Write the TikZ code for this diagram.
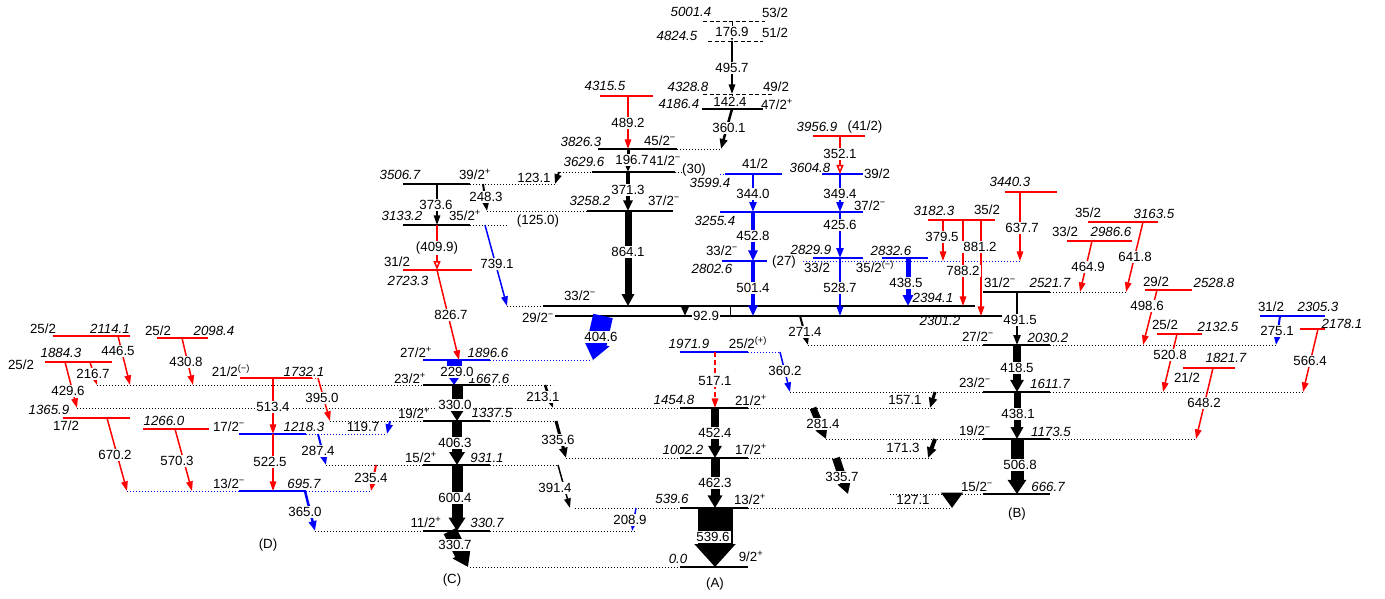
\documentclass[tikz,border=0pt]{standalone}
\usepackage{fontspec}
\setmainfont{Liberation Sans}
\usetikzlibrary{arrows.meta}

\tikzset{
  lev/.style={line width=1.2pt},
  ext/.style={line width=0.8pt,dash pattern=on 1pt off 2pt},
  tent/.style={line width=0.9pt,dash pattern=on 4pt off 2.5pt},
  g/.style={line width=#1,-{Triangle[length=9pt 0.4,width=5pt 1]}},
  og/.style={line width=#1,-{Triangle[open,length=9pt,width=7pt]}},
  en/.style={font=\fontsize{13.3}{15}\itshape,inner sep=0pt},
  sp/.style={inner sep=0pt},
  gap/.style={fill=white,inner sep=1.2pt},
}

\begin{document}
\begin{tikzpicture}[x=1pt,y=-1pt,font=\fontsize{13.3}{15}\selectfont]
\useasboundingbox (0,0) rectangle (1385,599);

% level heights
\foreach \n/\y in {5001/21,4824/41,4329/94,4316/96,4186/109,3957/136,3826/149,
  3630/172,3605/174,3599/174,3507/184,3440/192,3258/211,3255/212,3182/220,
  3164/222,3133/225,2987/241,2833/258,2830/258,2803/261,2723/270,2529/290,
  2522/292,2394/306,2301/316,2305/316,2178/329,2133/334,2114/336,2098/338,
  2030/345,1972/352,1897/360,1884/362,1822/368,1732/378,1668/385,1612/392,
  1455/408,1366/418,1338/421,1266/429,1218/434,1174/439,1002/458,931/465,
  696/491,667/494,540/508,331/531,0/567}
  \coordinate (l\n) at (0,\y);

% levels, black
\draw[tent] (703,0 |- l5001) -- (765,0 |- l5001);
\draw[tent] (708,0 |- l4824) -- (763,0 |- l4824);
\draw[tent] (703,0 |- l4329) -- (773,0 |- l4329);
\draw[lev] (702,0 |- l4186) -- (763,0 |- l4186);
\draw[lev] (598,0 |- l3826) -- (677,0 |- l3826);
\draw[ext] (677,0 |- l3826) -- (722,0 |- l3826);
\draw[lev] (592,0 |- l3630) -- (675,0 |- l3630);
\draw[ext] (560,0 |- l3630) -- (592,0 |- l3630) (675,0 |- l3630) -- (683,0 |- l3630);
\draw[lev] (403,0 |- l3507) -- (470,0 |- l3507);
\draw[ext] (470,0 |- l3507) -- (557,0 |- l3507);
\draw[lev] (587,0 |- l3258) -- (673,0 |- l3258);
\draw[ext] (487,0 |- l3258) -- (587,0 |- l3258);
\draw[lev] (403,0 |- l3133) -- (470,0 |- l3133);
\draw[ext] (470,0 |- l3133) -- (507,0 |- l3133);
\draw[lev] (543,0 |- l2394) -- (975,0 |- l2394);
\draw[ext] (507,0 |- l2394) -- (543,0 |- l2394);
\draw[lev] (555,0 |- l2301) -- (1003,0 |- l2301);
\draw[lev] (423,0 |- l1668) -- (490,0 |- l1668);
\draw[ext] (97,0 |- l1668) -- (423,0 |- l1668) (490,0 |- l1668) -- (553,0 |- l1668);
\draw[lev] (423,0 |- l1338) -- (490,0 |- l1338);
\draw[ext] (330,0 |- l1338) -- (423,0 |- l1338) (490,0 |- l1338) -- (556,0 |- l1338);
\draw[lev] (423,0 |- l931) -- (490,0 |- l931);
\draw[ext] (326,0 |- l931) -- (423,0 |- l931) (490,0 |- l931) -- (558,0 |- l931);
\draw[lev] (423,0 |- l331) -- (490,0 |- l331);
\draw[ext] (315,0 |- l331) -- (423,0 |- l331) (490,0 |- l331) -- (635,0 |- l331);
\draw[lev] (680,0 |- l0) -- (748,0 |- l0);
\draw[ext] (470,0 |- l0) -- (680,0 |- l0);
\draw[lev] (680,0 |- l540) -- (748,0 |- l540);
\draw[ext] (575,0 |- l540) -- (680,0 |- l540) (748,0 |- l540) -- (952,0 |- l540);
\draw[lev] (680,0 |- l1002) -- (748,0 |- l1002);
\draw[ext] (566,0 |- l1002) -- (680,0 |- l1002) (748,0 |- l1002) -- (932,0 |- l1002);
\draw[lev] (680,0 |- l1455) -- (748,0 |- l1455);
\draw[ext] (77,0 |- l1455) -- (680,0 |- l1455) (748,0 |- l1455) -- (935,0 |- l1455);
\draw[lev] (983,0 |- l2522) -- (1050,0 |- l2522);
\draw[ext] (1050,0 |- l2522) -- (1127,0 |- l2522);
\draw[lev] (983,0 |- l2030) -- (1050,0 |- l2030);
\draw[ext] (808,0 |- l2030) -- (983,0 |- l2030) (1050,0 |- l2030) -- (1276,0 |- l2030);
\draw[lev] (983,0 |- l1612) -- (1050,0 |- l1612);
\draw[ext] (790,0 |- l1612) -- (983,0 |- l1612) (1050,0 |- l1612) -- (1305,0 |- l1612);
\draw[lev] (983,0 |- l1174) -- (1050,0 |- l1174);
\draw[ext] (826,0 |- l1174) -- (983,0 |- l1174) (1050,0 |- l1174) -- (1197,0 |- l1174);
\draw[lev] (983,0 |- l667) -- (1050,0 |- l667);
\draw[ext] (890,0 |- l667) -- (983,0 |- l667);

% levels, blue
\begin{scope}[blue]
\draw[lev] (423,0 |- l1897) -- (490,0 |- l1897);
\draw[ext] (490,0 |- l1897) -- (592,0 |- l1897);
\draw[lev] (239,0 |- l1218) -- (306,0 |- l1218);
\draw[ext] (306,0 |- l1218) -- (387,0 |- l1218);
\draw[lev] (239,0 |- l696) -- (306,0 |- l696);
\draw[ext] (127,0 |- l696) -- (239,0 |- l696) (306,0 |- l696) -- (371,0 |- l696);
\draw[lev] (680,0 |- l1972) -- (748,0 |- l1972);
\draw[ext] (748,0 |- l1972) -- (780,0 |- l1972);
\draw[lev] (725,0 |- l3599) -- (782,0 |- l3599);
\draw[ext] (720,0 |- l3599) -- (725,0 |- l3599);
\draw[lev] (720,0 |- l3255) -- (863,0 |- l3255);
\draw[lev] (822,0 |- l3605) -- (863,0 |- l3605);
\draw[lev] (722,0 |- l2803) -- (767,0 |- l2803);
\draw[ext] (803,0 |- l2803) -- (1020,0 |- l2803);
\draw[lev] (813,0 |- l2830) -- (863,0 |- l2830);
\draw[lev] (882,0 |- l2833) -- (928,0 |- l2833);
\draw[lev] (1260,0 |- l2305) -- (1325,0 |- l2305);
\end{scope}

% levels, red
\begin{scope}[red]
\draw[lev] (600,0 |- l4316) -- (653,0 |- l4316);
\draw[lev] (403,0 |- l2723) -- (472,0 |- l2723);
\draw[lev] (813,0 |- l3957) -- (865,0 |- l3957);
\draw[lev] (928,0 |- l3182) -- (995,0 |- l3182);
\draw[lev] (1005,0 |- l3440) -- (1057,0 |- l3440);
\draw[lev] (1088,0 |- l3164) -- (1158,0 |- l3164);
\draw[lev] (1067,0 |- l2987) -- (1132,0 |- l2987);
\draw[lev] (1145,0 |- l2529) -- (1192,0 |- l2529);
\draw[lev] (1157,0 |- l2133) -- (1202,0 |- l2133);
\draw[lev] (1183,0 |- l1822) -- (1235,0 |- l1822);
\draw[lev] (1300,0 |- l2178) -- (1325,0 |- l2178);
\draw[lev] (53,0 |- l2114) -- (130,0 |- l2114);
\draw[lev] (157,0 |- l2098) -- (208,0 |- l2098);
\draw[lev] (45,0 |- l1884) -- (112,0 |- l1884);
\draw[lev] (240,0 |- l1732) -- (312,0 |- l1732);
\draw[ext] (312,0 |- l1732) -- (318,0 |- l1732);
\draw[lev] (63,0 |- l1366) -- (130,0 |- l1366);
\draw[lev] (143,0 |- l1266) -- (209,0 |- l1266);
\end{scope}

% transitions, black
\draw[g=1pt] (732,0 |- l5001) -- (732,0 |- l4824);
\draw[g=1.5pt] (732,0 |- l4824) -- (732,0 |- l4329);
\draw[g=1pt] (732,0 |- l4329) -- (732,0 |- l4186);
\draw[g=2.5pt] (732,0 |- l4186) -- (721,0 |- l3826);
\draw[g=3pt] (628,0 |- l3826) -- (628,0 |- l3630);
\draw[g=2pt] (559,0 |- l3630) -- (555,0 |- l3507);
\draw[g=4pt] (628,0 |- l3630) -- (628,0 |- l3258);
\draw[g=2pt] (483,0 |- l3507) -- (487,0 |- l3258);
\draw[g=1.5pt] (437,0 |- l3507) -- (437,0 |- l3133);
\draw[g=7pt] (628,0 |- l3258) -- (628,0 |- l2394);
\draw[g=3pt] (685,0 |- l2394) -- (685,0 |- l2301);
\draw[line width=0.8pt] (730,0 |- l2394) -- (730,0 |- l2301);
\draw[g=11pt] (457,0 |- l1668) -- (457,0 |- l1338);
\draw[g=2.5pt] (545,0 |- l1668) -- (553,0 |- l1455);
\draw[g=10pt] (457,0 |- l1338) -- (457,0 |- l931);
\draw[g=3pt] (556,0 |- l1338) -- (566,0 |- l1002);
\draw[g=11pt] (457,0 |- l931) -- (457,0 |- l331);
\draw[g=1.5pt] (558,0 |- l931) -- (570,0 |- l540);
\draw[g=14pt] (450,0 |- l331) -- (468,0 |- l0);
\draw[g=35pt] (715,0 |- l540) -- (715,0 |- l0);
\draw[g=9pt] (715,0 |- l1002) -- (715,0 |- l540);
\draw[g=8pt] (715,0 |- l1455) -- (715,0 |- l1002);
\draw[g=7pt] (813,0 |- l1455) -- (826,0 |- l1174);
\draw[g=3pt] (935,0 |- l1612) -- (930,0 |- l1455);
\draw[g=4pt] (935,0 |- l1174) -- (928,0 |- l1002);
\draw[g=8pt] (836,0 |- l1002) -- (848,0 |- l667);
\draw[g=16pt] (952,0 |- l667) -- (952,0 |- l540);
\draw[g=2pt] (1017,0 |- l2522) -- (1017,0 |- l2030);
\draw[g=2pt] (800,0 |- l2301) -- (808,0 |- l2030);
\draw[g=8pt] (1017,0 |- l2030) -- (1017,0 |- l1612);
\draw[g=7pt] (1017,0 |- l1612) -- (1017,0 |- l1174);
\draw[g=13pt] (1017,0 |- l1174) -- (1017,0 |- l667);

% transitions, blue
\begin{scope}[blue]
\draw[g=1.5pt] (485,0 |- l3133) -- (507,0 |- l2394);
\draw[g=20pt] (603,0 |- l2301) -- (593,0 |- l1897);
\draw[g=15pt] (454,0 |- l1897) -- (454,0 |- l1668);
\draw[g=2pt] (390,0 |- l1338) -- (387,0 |- l1218);
\draw[g=2.5pt] (305,0 |- l696) -- (315,0 |- l331);
\draw[g=1.5pt] (636,0 |- l540) -- (632,0 |- l331);
\draw[g=2pt] (318,0 |- l1218) -- (326,0 |- l931);
\draw[g=1.5pt] (780,0 |- l1972) -- (790,0 |- l1612);
\draw[g=2pt] (753,0 |- l3599) -- (753,0 |- l3255);
\draw[g=2pt] (840,0 |- l3605) -- (840,0 |- l3255);
\draw[g=4pt] (753,0 |- l3255) -- (753,0 |- l2803);
\draw[g=2pt] (840,0 |- l3255) -- (840,0 |- l2830);
\draw[g=4pt] (753,0 |- l2803) -- (753,0 |- l2301);
\draw[g=1.5pt] (840,0 |- l2830) -- (840,0 |- l2301);
\draw[g=5pt] (908,0 |- l2833) -- (908,0 |- l2394);
\draw[g=2pt] (1280,0 |- l2305) -- (1276,0 |- l2030);
\end{scope}

% transitions, red
\begin{scope}[red]
\draw[g=1.5pt] (628,0 |- l4316) -- (628,0 |- l3826);
\draw[og=1.5pt] (437,0 |- l3133) -- (437,0 |- l2723);
\draw[g=1.5pt] (437,0 |- l2723) -- (459,0 |- l1897);
\draw[g=1.5pt,dash pattern=on 5pt off 3pt] (715,0 |- l1972) -- (715,0 |- l1455);
\draw[og=1.5pt] (840,0 |- l3957) -- (840,0 |- l3605);
\draw[g=1.5pt] (943,0 |- l3182) -- (943,0 |- l2803);
\draw[g=1.5pt] (963,0 |- l3182) -- (963,0 |- l2394);
\draw[g=1.5pt] (981,0 |- l3182) -- (981,0 |- l2301);
\draw[g=1.5pt] (1020,0 |- l3440) -- (1020,0 |- l2803);
\draw[g=1.5pt] (1143,0 |- l3164) -- (1126,0 |- l2522);
\draw[g=1.5pt] (1092,0 |- l2987) -- (1080,0 |- l2522);
\draw[g=1.5pt] (1157,0 |- l2529) -- (1143,0 |- l2030);
\draw[g=1.5pt] (1177,0 |- l2133) -- (1163,0 |- l1612);
\draw[g=1.5pt] (1213,0 |- l1822) -- (1196,0 |- l1174);
\draw[g=1.5pt] (1318,0 |- l2178) -- (1303,0 |- l1612);
\draw[g=1.5pt] (118,0 |- l2114) -- (130,0 |- l1668);
\draw[g=1.5pt] (182,0 |- l2098) -- (193,0 |- l1668);
\draw[g=1.5pt] (90,0 |- l1884) -- (97,0 |- l1668);
\draw[g=1.5pt] (65,0 |- l1884) -- (77,0 |- l1455);
\draw[g=1.5pt] (318,0 |- l1732) -- (330,0 |- l1338);
\draw[g=1.5pt] (273,0 |- l1732) -- (273,0 |- l1218);
\draw[g=1.5pt] (273,0 |- l1218) -- (273,0 |- l696);
\draw[g=1.5pt] (107,0 |- l1366) -- (127,0 |- l696);
\draw[g=1.5pt] (175,0 |- l1266) -- (192,0 |- l696);
\draw[g=2pt] (376,0 |- l931) -- (371,0 |- l696);
\end{scope}

% energies
\node[en] (e5001) at (691,12) {5001.4};
\node[en] (e4824) at (677,36) {4824.5};
\node[en] (e4329) at (688,87) {4328.8};
\node[en] (e4186) at (679,104) {4186.4};
\node[en] (e4316) at (605,86) {4315.5};
\node[en] (e3826) at (581,142) {3826.3};
\node[en] (e3630) at (584,162) {3629.6};
\node[en] (e3507) at (400,175) {3506.7};
\node[en] (e3258) at (590,201) {3258.2};
\node[en] (e3133) at (402,216) {3133.2};
\node[en] (e2723) at (408,281) {2723.3};
\node[en] (e2394) at (933,298) {2394.1};
\node[en] (e2301) at (940,321) {2301.2};
\node[en] (e1897) at (488,353) {1896.6};
\node[en] (e1668) at (489,379) {1667.6};
\node[en] (e1338) at (492,413) {1337.5};
\node[en] (e1218) at (304,427) {1218.3};
\node[en] (e931) at (487,458) {931.1};
\node[en] (e696) at (304,484) {695.7};
\node[en] (e331) at (487,523) {330.7};
\node[en] (e0) at (678,559) {0.0};
\node[en] (e540) at (672,499) {539.6};
\node[en] (e1002) at (683,450) {1002.2};
\node[en] (e1455) at (674,400) {1454.8};
\node[en] (e1972) at (689,344) {1971.9};
\node[en] (e2522) at (1050,283) {2521.7};
\node[en] (e2030) at (1048,338) {2030.2};
\node[en] (e1612) at (1050,384) {1611.7};
\node[en] (e1174) at (1051,432) {1173.5};
\node[en] (e667) at (1048,487) {666.7};
\node[en] (e3599) at (710,183) {3599.4};
\node[en] (e3255) at (715,221) {3255.4};
\node[en] (e3957) at (817,127) {3956.9};
\node[en] (e3605) at (810,168) {3604.8};
\node[en] (e2803) at (712,269) {2802.6};
\node[en] (e2830) at (811,250) {2829.9};
\node[en] (e2833) at (891,251) {2832.6};
\node[en] (e3182) at (934,211) {3182.3};
\node[en] (e3440) at (1010,182) {3440.3};
\node[en] (e3164) at (1154,214) {3163.5};
\node[en] (e2987) at (1111,232) {2986.6};
\node[en] (e2529) at (1214,283) {2528.8};
\node[en] (e2133) at (1218,327) {2132.5};
\node[en] (e1822) at (1226,358) {1821.7};
\node[en] (e2305) at (1318,307) {2305.3};
\node[en] (e2178) at (1342,324) {2178.1};
\node[en] (e2114) at (110,329) {2114.1};
\node[en] (e2098) at (214,331) {2098.4};
\node[en] (e1884) at (61,353) {1884.3};
\node[en] (e1732) at (304,372) {1732.1};
\node[en] (e1366) at (49,410) {1365.9};
\node[en] (e1266) at (164,421) {1266.0};

% spins
\node[sp] (s5001) at (775,13) {53/2};
\node[sp] (s4824) at (775,33) {51/2};
\node[sp] (s4329) at (776,87) {49/2};
\node[sp] (s4186) at (777,104) {47/2\textsuperscript{+}};
\node[sp] (s3826) at (660,141) {45/2\textsuperscript{−}};
\node[sp] (s3630) at (665,161) {41/2\textsuperscript{−}};
\node[sp] (s3507) at (475,174) {39/2\textsuperscript{+}};
\node[sp] (s3258) at (664,201) {37/2\textsuperscript{−}};
\node[sp] (s3133) at (465,215) {35/2\textsuperscript{+}};
\node[sp] (s2723) at (397,262) {31/2};
\node[sp] (s2394) at (580,296) {33/2\textsuperscript{−}};
\node[sp] (s2301) at (538,318) {29/2\textsuperscript{−}};
\node[sp] (s1897) at (416,352) {27/2\textsuperscript{+}};
\node[sp] (s1668) at (410,378) {23/2\textsuperscript{+}};
\node[sp] (s1338) at (414,413) {19/2\textsuperscript{+}};
\node[sp] (s1218) at (229,427) {17/2\textsuperscript{−}};
\node[sp] (s931) at (421,457) {15/2\textsuperscript{+}};
\node[sp] (s696) at (229,484) {13/2\textsuperscript{−}};
\node[sp] (s331) at (426,522) {11/2\textsuperscript{+}};
\node[sp] (s0) at (751,556) {9/2\textsuperscript{+}};
\node[sp] (s540) at (750,499) {13/2\textsuperscript{+}};
\node[sp] (s1002) at (751,449) {17/2\textsuperscript{+}};
\node[sp] (s1455) at (751,400) {21/2\textsuperscript{+}};
\node[sp] (s1972) at (748,343) {25/2\textsuperscript{(+)}};
\node[sp] (s2522) at (1000,283) {31/2\textsuperscript{−}};
\node[sp] (s2030) at (978,337) {27/2\textsuperscript{−}};
\node[sp] (s1612) at (975,383) {23/2\textsuperscript{−}};
\node[sp] (s1174) at (975,431) {19/2\textsuperscript{−}};
\node[sp] (s667) at (977,487) {15/2\textsuperscript{−}};
\node[sp] (s3599) at (755,164) {41/2};
\node[sp] (s3255) at (870,206) {37/2\textsuperscript{−}};
\node[sp] (s3957) at (865,127) {(41/2)};
\node[sp] (s3605) at (877,174) {39/2};
\node[sp] (s2803) at (722,251) {33/2\textsuperscript{−}};
\node[sp] (s2830) at (817,268) {33/2};
\node[sp] (s2833) at (875,267) {35/2\textsuperscript{(−)}};
\node[sp] (s3182) at (987,210) {35/2};
\node[sp] (s3164) at (1088,213) {35/2};
\node[sp] (s2987) at (1065,232) {33/2};
\node[sp] (s2529) at (1156,282) {29/2};
\node[sp] (s2133) at (1165,325) {25/2};
\node[sp] (s1822) at (1187,378) {21/2};
\node[sp] (s2305) at (1271,307) {31/2};
\node[sp] (s2114) at (43,329) {25/2};
\node[sp] (s2098) at (158,331) {25/2};
\node[sp] (s1884) at (21,365) {25/2};
\node[sp] (s1732) at (231,371) {21/2\textsuperscript{(−)}};
\node[sp] (s1366) at (66,426) {17/2};

% gamma energies
\node[gap] (g1769) at (732,32) {176.9};
\node[gap] (g4957) at (732,68) {495.7};
\node[gap] (g1424) at (730,102) {142.4};
\node[gap] (g3601) at (729,128) {360.1};
\node[gap] (g4892) at (628,123) {489.2};
\node[gap] (g1967) at (632,160) {196.7};
\node[sp] (g300) at (694,170) {(30)};
\node[sp] (g1231) at (534,178) {123.1};
\node[gap] (g3713) at (628,190) {371.3};
\node[gap] (g2483) at (486,197) {248.3};
\node[gap] (g3736) at (436,205) {373.6};
\node[sp] (g1250) at (538,221) {(125.0)};
\node[gap] (g4099) at (437,248) {(409.9)};
\node[gap] (g7391) at (497,264) {739.1};
\node[gap] (g8267) at (451,315) {826.7};
\node[gap] (g8641) at (628,252) {864.1};
\node[gap] (g929) at (706,316) {92.9};
\node[gap] (g4046) at (601,337) {404.6};
\node[gap] (g2290) at (457,372) {229.0};
\node[gap] (g3300) at (455,405) {330.0};
\node[gap] (g2131) at (543,397) {213.1};
\node[sp] (g1197) at (363,427) {119.7};
\node[gap] (g4063) at (455,443) {406.3};
\node[gap] (g3356) at (558,440) {335.6};
\node[gap] (g2354) at (371,478) {235.4};
\node[gap] (g6004) at (455,498) {600.4};
\node[gap] (g3914) at (555,488) {391.4};
\node[gap] (g3650) at (305,512) {365.0};
\node[gap] (g2089) at (630,520) {208.9};
\node[gap] (g3307) at (455,545) {330.7};
\node[gap] (g5396) at (713,537) {539.6};
\node[gap] (g4623) at (715,483) {462.3};
\node[gap] (g4524) at (715,433) {452.4};
\node[gap] (g5171) at (715,381) {517.1};
\node[gap] (g3602) at (785,371) {360.2};
\node[gap] (g2814) at (823,424) {281.4};
\node[sp] (g1571) at (905,400) {157.1};
\node[sp] (g1713) at (903,448) {171.3};
\node[gap] (g3357) at (842,477) {335.7};
\node[sp] (g1271) at (913,500) {127.1};
\node[gap] (g4915) at (1020,320) {491.5};
\node[gap] (g2714) at (805,332) {271.4};
\node[gap] (g4185) at (1017,368) {418.5};
\node[gap] (g4381) at (1018,414) {438.1};
\node[gap] (g5068) at (1020,465) {506.8};
\node[gap] (g3440) at (753,194) {344.0};
\node[gap] (g3521) at (840,154) {352.1};
\node[gap] (g3494) at (840,194) {349.4};
\node[gap] (g4528) at (753,236) {452.8};
\node[sp] (g270) at (784,262) {(27)};
\node[gap] (g4256) at (840,225) {425.6};
\node[gap] (g5014) at (753,288) {501.4};
\node[gap] (g5287) at (840,288) {528.7};
\node[gap] (g4385) at (906,283) {438.5};
\node[gap] (g3795) at (942,237) {379.5};
\node[gap] (g7882) at (963,271) {788.2};
\node[gap] (g8812) at (980,247) {881.2};
\node[gap] (g6377) at (1022,228) {637.7};
\node[gap] (g6418) at (1135,257) {641.8};
\node[gap] (g4649) at (1088,267) {464.9};
\node[gap] (g4986) at (1147,306) {498.6};
\node[gap] (g5208) at (1170,355) {520.8};
\node[gap] (g6482) at (1204,403) {648.2};
\node[gap] (g2751) at (1277,331) {275.1};
\node[gap] (g5664) at (1310,361) {566.4};
\node[gap] (g4465) at (118,351) {446.5};
\node[gap] (g4308) at (186,362) {430.8};
\node[gap] (g2167) at (93,374) {216.7};
\node[gap] (g4296) at (68,391) {429.6};
\node[gap] (g3950) at (322,398) {395.0};
\node[gap] (g5134) at (273,407) {513.4};
\node[gap] (g5225) at (270,462) {522.5};
\node[gap] (g6702) at (115,455) {670.2};
\node[gap] (g5703) at (177,461) {570.3};
\node[gap] (g2874) at (318,451) {287.4};

% band labels
\node[sp] (bandA) at (715,584) {(A)};
\node[sp] (bandB) at (1017,514) {(B)};
\node[sp] (bandC) at (452,580) {(C)};
\node[sp] (bandD) at (268,545) {(D)};
\end{tikzpicture}
\end{document}
